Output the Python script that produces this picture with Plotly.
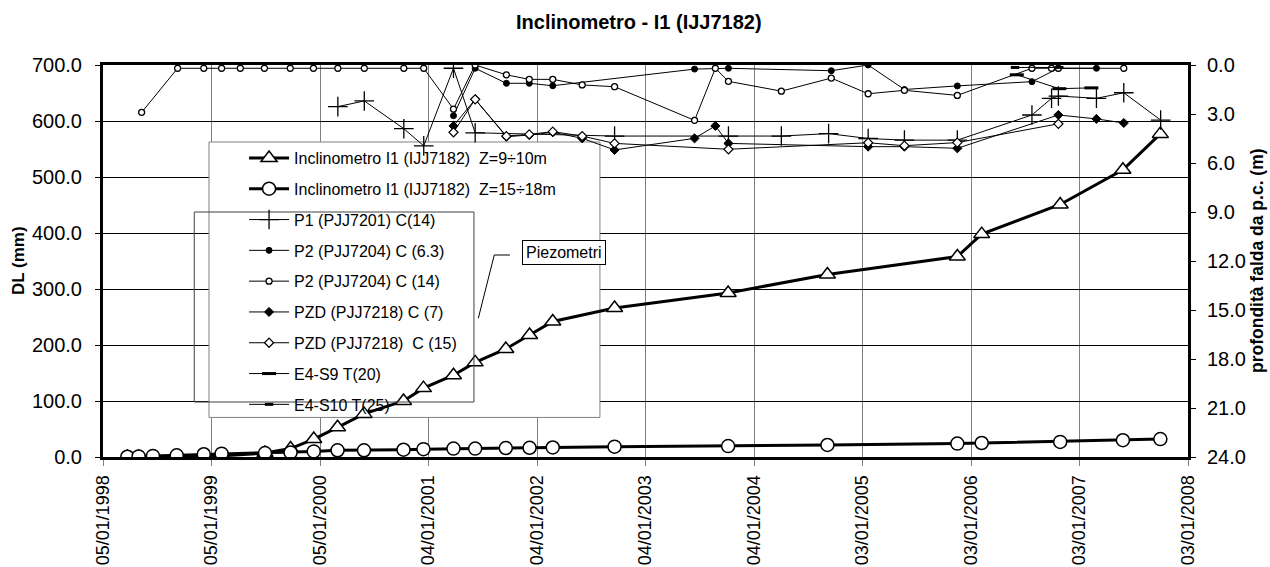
import pandas as pd
import plotly.graph_objects as go

# ---- Inclinometer readings (DL, mm) ----
incl_dates = [
    "1998-03-28", "1998-05-05", "1998-06-22", "1998-09-10", "1998-12-10", "1999-02-08",
    "1999-07-04", "1999-09-28", "1999-12-15", "2000-03-04", "2000-06-01", "2000-10-12",
    "2000-12-18", "2001-03-29", "2001-06-10", "2001-09-21", "2001-12-10", "2002-02-26",
    "2002-09-22", "2003-10-09", "2004-09-07", "2005-11-18", "2006-02-08", "2006-10-30",
    "2007-05-29", "2007-10-02",
]
incl_z9_10 = [0, 0, 0, 0, 1, 2, 7, 15, 32, 53, 77, 100, 123, 146, 169, 193, 218, 242,
              266, 293, 326, 358, 398, 451, 513, 577]
incl_z15_18 = [0.5, 1, 2, 3, 5, 6, 7, 8, 10, 12, 12, 13, 14, 15, 15, 16, 16.5, 17,
               18.5, 19.5, 21.5, 24, 25, 27, 30, 32]

# ---- Piezometers (water table depth from ground level, m) ----
p1_dates = ["2000-03-05", "2000-06-02", "2000-10-13", "2000-12-19", "2001-03-29",
            "2001-06-10", "2002-09-22", "2003-10-10", "2004-04-05", "2004-09-11",
            "2005-01-22", "2005-05-24", "2005-11-18", "2006-07-27", "2006-10-01",
            "2006-10-24", "2007-03-01", "2007-06-01", "2007-10-03"]
p1_depth = [2.55, 2.2, 3.9, 4.95, 0.2, 4.15, 4.35, 4.35, 4.35, 4.2,
            4.5, 4.6, 4.6, 3.06, 2.04, 1.9, 2.04, 1.7, 3.37]

p2_c63_dates = ["2001-03-29", "2001-06-10", "2001-09-23", "2001-12-09", "2002-02-26",
                "2003-06-18", "2003-10-10", "2004-09-20", "2005-01-22", "2005-05-24",
                "2005-11-18", "2006-07-27", "2006-10-24", "2007-03-01"]
p2_c63_depth = [3.1, 0.2, 1.12, 1.12, 1.27, 0.25, 0.2, 0.35, 0.0, 1.5,
                1.28, 1.02, 0.2, 0.2]

p2_c14_dates = ["1998-05-15", "1998-09-13", "1998-12-10", "1999-02-08", "1999-04-12",
                "1999-07-02", "1999-09-27", "1999-12-14", "2000-03-05", "2000-06-02",
                "2000-10-13", "2000-12-19", "2001-03-29", "2001-06-10", "2001-09-23",
                "2001-12-09", "2002-02-26", "2002-06-05", "2002-09-22", "2003-06-18",
                "2003-08-27", "2003-10-10", "2004-04-05", "2004-09-20", "2005-01-22",
                "2005-05-24", "2005-11-18", "2006-07-27", "2006-10-01", "2006-10-24",
                "2007-06-01"]
p2_c14_depth = [2.9, 0.2, 0.2, 0.2, 0.2, 0.2, 0.2, 0.2, 0.2, 0.2,
                0.2, 0.2, 2.7, 0.0, 0.6, 0.88, 0.88, 1.22, 1.33, 3.39,
                0.2, 1.0, 1.6, 0.8, 1.76, 1.55, 1.86, 0.2, 0.2, 0.2, 0.2]

pzd_c7_dates = ["2001-03-29", "2001-06-10", "2001-09-23", "2001-12-09", "2002-02-26",
                "2002-06-05", "2002-09-22", "2003-06-18", "2003-08-27", "2003-10-10",
                "2005-01-22", "2005-05-24", "2005-11-18", "2006-10-24", "2007-03-01",
                "2007-06-01"]
pzd_c7_depth = [3.73, 2.1, 4.39, 4.29, 4.12, 4.49, 5.2, 4.49, 3.73, 4.8,
                5.0, 5.0, 5.1, 3.06, 3.3, 3.55]

pzd_c15_dates = ["2001-03-29", "2001-06-10", "2001-09-23", "2001-12-09", "2002-02-26",
                 "2002-06-05", "2002-09-22", "2003-10-10", "2005-01-22", "2005-05-24",
                 "2005-11-18", "2006-10-24"]
pzd_c15_depth = [4.12, 2.1, 4.35, 4.25, 4.08, 4.35, 4.8, 5.16, 4.76, 4.94, 4.75, 3.6]

e4s9_dates = ["2006-06-06", "2006-10-27", "2007-02-12"]
e4s9_depth = [0.6, 1.45, 1.4]

e4s10_dates = ["2006-05-31", "2006-10-27"]
e4s10_depth = [0.15, 0.15]

# ---- Axis ticks ----
tick_dates = ["1998-01-05", "1999-01-05", "2000-01-05", "2001-01-04", "2002-01-04",
              "2003-01-04", "2004-01-04", "2005-01-03", "2006-01-03", "2007-01-03",
              "2008-01-03"]
tick_labels = ["05/01/1998", "05/01/1999", "05/01/2000", "04/01/2001", "04/01/2002",
               "04/01/2003", "04/01/2004", "03/01/2005", "03/01/2006", "03/01/2007",
               "03/01/2008"]
dl_ticks = [0, 100, 200, 300, 400, 500, 600, 700]
depth_ticks = [0, 3, 6, 9, 12, 15, 18, 21, 24]

FONT = "Arial, 'Liberation Sans', sans-serif"
DL_MAX = 700

t_start = pd.Timestamp(tick_dates[0])
t_end = pd.Timestamp(tick_dates[-1])


def x_at(frac):
    """Date lying at a fraction of the x-axis span."""
    return (t_start + (t_end - t_start) * frac).strftime("%Y-%m-%d %H:%M:%S")


def y_at(frac):
    """DL value lying at a fraction of the left-axis span."""
    return DL_MAX * frac


fig = go.Figure()

# inclinometer curves (left axis)
fig.add_trace(go.Scatter(
    x=incl_dates, y=incl_z9_10, yaxis="y", mode="lines+markers",
    name="Inclinometro I1 (IJJ7182)  Z=9÷10m", legendgroup="g1",
    line=dict(color="black", width=3),
    marker=dict(symbol="triangle-up", size=14, color="white",
                line=dict(color="black", width=1.5)),
))
fig.add_trace(go.Scatter(
    x=incl_dates, y=incl_z15_18, yaxis="y", mode="lines+markers",
    name="Inclinometro I1 (IJJ7182)  Z=15÷18m", legendgroup="g2",
    line=dict(color="black", width=3),
    marker=dict(symbol="circle", size=13, color="white",
                line=dict(color="black", width=1.5)),
))

# piezometers (right axis)
thin = dict(color="black", width=1)
fig.add_trace(go.Scatter(
    x=p1_dates, y=p1_depth, yaxis="y2", mode="lines+markers",
    name="P1 (PJJ7201) C(14)", legendgroup="g3", line=thin,
    marker=dict(symbol="cross-thin", size=14, color="black",
                line=dict(color="black", width=1.3)),
))
fig.add_trace(go.Scatter(
    x=p2_c63_dates, y=p2_c63_depth, yaxis="y2", mode="lines+markers",
    name="P2 (PJJ7204) C (6.3)", legendgroup="g4", line=thin,
    marker=dict(symbol="circle", size=6, color="black",
                line=dict(color="black", width=1)),
))
fig.add_trace(go.Scatter(
    x=p2_c14_dates, y=p2_c14_depth, yaxis="y2", mode="lines+markers",
    name="P2 (PJJ7204) C (14)", legendgroup="g5", line=thin,
    marker=dict(symbol="circle", size=6, color="white",
                line=dict(color="black", width=1.3)),
))
fig.add_trace(go.Scatter(
    x=pzd_c7_dates, y=pzd_c7_depth, yaxis="y2", mode="lines+markers",
    name="PZD (PJJ7218) C (7)", legendgroup="g6", line=thin,
    marker=dict(symbol="diamond", size=7, color="black",
                line=dict(color="black", width=1)),
))
fig.add_trace(go.Scatter(
    x=pzd_c15_dates, y=pzd_c15_depth, yaxis="y2", mode="lines+markers",
    name="PZD (PJJ7218)  C (15)", legendgroup="g7", line=thin,
    marker=dict(symbol="diamond", size=7, color="white",
                line=dict(color="black", width=1.2)),
))
fig.add_trace(go.Scatter(
    x=e4s9_dates, y=e4s9_depth, yaxis="y2", mode="lines+markers",
    name="E4-S9 T(20)", legendgroup="g8", line=thin,
    marker=dict(symbol="line-ew", size=10, color="black",
                line=dict(color="black", width=3)),
))
fig.add_trace(go.Scatter(
    x=e4s10_dates, y=e4s10_depth, yaxis="y2", mode="lines+markers",
    name="E4-S10 T(25)", legendgroup="g9", line=thin,
    marker=dict(symbol="line-ew", size=6, color="black",
                line=dict(color="black", width=3)),
))

fig.update_layout(
    width=1270, height=567,
    margin=dict(l=103, r=82, t=65, b=110, pad=0, autoexpand=False),
    paper_bgcolor="white", plot_bgcolor="white",
    font=dict(family=FONT, color="black"),
    showlegend=True,
    legend=dict(
        x=0.13, y=0.806, xanchor="left", yanchor="top",
        bgcolor="rgba(0,0,0,0)", borderwidth=0,
        font=dict(size=16, family=FONT), itemwidth=40,
        tracegroupgap=7, traceorder="grouped", itemsizing="trace",
    ),
    title=dict(text="<b>Inclinometro - I1 (IJJ7182)</b>", x=0.503, xref="container",
               y=0.961, yref="container", xanchor="center", yanchor="middle",
               font=dict(size=20, family=FONT)),
    xaxis=dict(
        type="date", range=[tick_dates[0], tick_dates[-1]], automargin=False,
        tickmode="array", tickvals=tick_dates, ticktext=tick_labels,
        tickangle=-90, tickfont=dict(size=18), ticks="outside", ticklen=6,
        tickcolor="#808080", ticklabelstandoff=2,
        showgrid=True, gridcolor="#808080", gridwidth=1,
        showline=True, linecolor="black", linewidth=3, mirror=True,
        zeroline=False,
    ),
    yaxis=dict(
        range=[0, DL_MAX], tickmode="array", tickvals=dl_ticks, automargin=False,
        ticktext=[f"{v:.1f}" for v in dl_ticks], tickfont=dict(size=20),
        ticks="outside", ticklen=5, tickcolor="black", ticklabelstandoff=9,
        showgrid=True, gridcolor="black", gridwidth=1,
        showline=True, linecolor="black", linewidth=3, zeroline=False,
    ),
    yaxis2=dict(
        overlaying="y", side="right", range=[24, 0], tickmode="array",
        automargin=False,
        tickvals=depth_ticks, ticktext=[f"{v:.1f}" for v in depth_ticks],
        tickfont=dict(size=20), ticks="outside", ticklen=5, tickcolor="black",
        ticklabelstandoff=7, showgrid=False, showline=True, linecolor="black",
        linewidth=3, zeroline=False,
    ),
)

# legend panel: white, above the gridlines but beneath the curves
fig.add_shape(type="rect", xref="x", yref="y", layer="between",
              x0=x_at(0.0977), x1=x_at(0.458), y0=y_at(0.101), y1=y_at(0.8036),
              fillcolor="white", line=dict(color="#808080", width=1))
# bracket grouping the piezometer entries
fig.add_shape(type="rect", xref="x", yref="y", layer="above",
              x0=x_at(0.0841), x1=x_at(0.3419), y0=y_at(0.1403), y1=y_at(0.625),
              fillcolor="rgba(0,0,0,0)", line=dict(color="#404040", width=1))
fig.add_shape(type="path", xref="paper", yref="paper", layer="above",
              path="M 0.3751 0.5153 L 0.3606 0.5153 L 0.3459 0.3538",
              line=dict(color="black", width=1))

fig.add_annotation(text="Piezometri", xref="paper", yref="paper",
                   x=0.4247, y=0.5217, showarrow=False, font=dict(size=16),
                   bordercolor="black", borderwidth=1, borderpad=3, bgcolor="white")

# axis titles
fig.add_annotation(text="<b>DL (mm)</b>", xref="paper", yref="paper",
                   x=-0.0783, y=0.5, textangle=-90, showarrow=False,
                   font=dict(size=17), xanchor="center", yanchor="middle")
fig.add_annotation(text="<b>profondità falda da p.c. (m)</b>", xref="paper", yref="paper",
                   x=1.0636, y=0.5, textangle=-90, showarrow=False,
                   font=dict(size=17.5), xanchor="center", yanchor="middle")

fig.write_html("out.html")
